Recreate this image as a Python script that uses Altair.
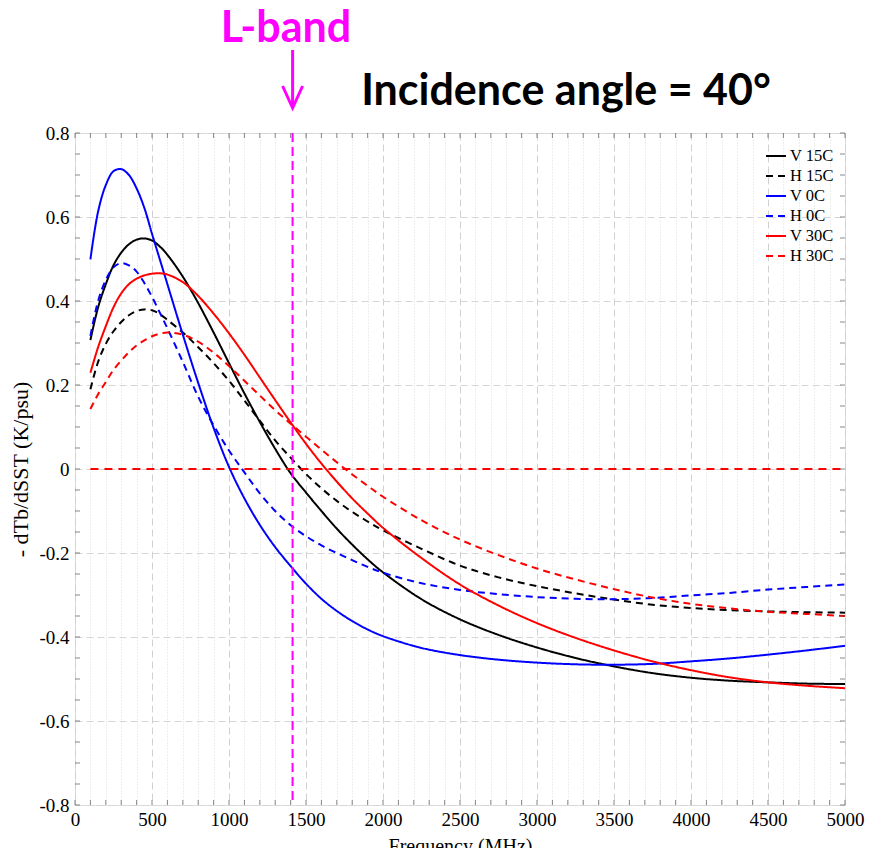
import altair as alt
import pandas as pd

freq = [100, 150, 200, 250, 300, 350, 400, 450, 500, 550, 600, 700, 800, 900, 1000,
        1100, 1200, 1300, 1400, 1500, 1600, 1700, 1800, 1900, 2000, 2250, 2500, 2750,
        3000, 3250, 3500, 3750, 4000, 4250, 4500, 4750, 5000]

v15 = [0.307, 0.385, 0.44, 0.485, 0.515, 0.535, 0.546, 0.549, 0.544, 0.530, 0.51, 0.458,
       0.395, 0.325, 0.252, 0.18, 0.112, 0.048, -0.01, -0.056, -0.10, -0.142, -0.18,
       -0.215, -0.246, -0.31, -0.358, -0.395, -0.425, -0.45, -0.47, -0.486, -0.497,
       -0.504, -0.508, -0.511, -0.512]
h15 = [0.19, 0.255, 0.298, 0.328, 0.35, 0.366, 0.376, 0.38, 0.378, 0.369, 0.355, 0.325,
       0.29, 0.252, 0.21, 0.163, 0.115, 0.068, 0.027, -0.012, -0.046, -0.076, -0.102,
       -0.125, -0.146, -0.19, -0.23, -0.258, -0.279, -0.296, -0.311, -0.323, -0.331,
       -0.336, -0.339, -0.341, -0.342]
v0 = [0.499, 0.613, 0.676, 0.709, 0.714, 0.70, 0.668, 0.622, 0.56, 0.50, 0.44, 0.32,
      0.205, 0.098, 0.005, -0.07, -0.133, -0.186, -0.231, -0.273, -0.309, -0.338, -0.362,
      -0.382, -0.398, -0.426, -0.443, -0.454, -0.461, -0.465, -0.466, -0.464, -0.458,
      -0.451, -0.442, -0.432, -0.421]
h0 = [0.317, 0.40, 0.45, 0.48, 0.49, 0.485, 0.47, 0.443, 0.41, 0.373, 0.335, 0.255,
      0.172, 0.104, 0.044, -0.008, -0.058, -0.1, -0.134, -0.16, -0.182, -0.2, -0.217,
      -0.233, -0.247, -0.272, -0.288, -0.298, -0.305, -0.309, -0.31, -0.307, -0.301,
      -0.295, -0.287, -0.281, -0.275]
v30 = [0.229, 0.29, 0.34, 0.385, 0.418, 0.44, 0.453, 0.461, 0.465, 0.466, 0.463, 0.445,
       0.412, 0.37, 0.323, 0.272, 0.218, 0.164, 0.111, 0.06, 0.013, -0.03, -0.07, -0.106,
       -0.14, -0.212, -0.275, -0.325, -0.367, -0.402, -0.432, -0.458, -0.479, -0.496,
       -0.508, -0.516, -0.522]
h30 = [0.143, 0.178, 0.207, 0.236, 0.258, 0.278, 0.294, 0.306, 0.316, 0.322, 0.325, 0.32,
       0.303, 0.277, 0.245, 0.21, 0.175, 0.14, 0.108, 0.077, 0.046, 0.016, -0.013, -0.04,
       -0.066, -0.122, -0.168, -0.205, -0.237, -0.263, -0.286, -0.306, -0.321, -0.332,
       -0.34, -0.345, -0.35]

series_names = ["V 15C", "H 15C", "V 0C", "H 0C", "V 30C", "H 30C"]
series_values = [v15, h15, v0, h0, v30, h30]
series_colors = ["#000000", "#000000", "#0000ff", "#0000ff", "#ff0000", "#ff0000"]
series_dash = [[1, 0], [7, 5], [1, 0], [7, 5], [1, 0], [7, 5]]

zero_freq = [100, 5000]
zero_val = [0, 0]
lband_freq = [1413]

x_ticks = list(range(0, 5001, 100))
y_ticks = [round(-0.8 + 0.05 * i, 2) for i in range(33)]

rows = []
for name, vals in zip(series_names, series_values):
    for f, v in zip(freq, vals):
        rows.append({"freq": f, "val": v, "series": name})
df = pd.DataFrame(rows)
zero_df = pd.DataFrame({"freq": zero_freq, "val": zero_val})
lband_df = pd.DataFrame({"freq": lband_freq})
xt_df = pd.DataFrame({"freq": x_ticks})
yt_df = pd.DataFrame({"val": y_ticks})

W, H = 770, 672
FONT = "Liberation Serif"
xscale = alt.Scale(domain=[0, 5000], nice=False, zero=False)
yscale = alt.Scale(domain=[-0.8, 0.8], nice=False, zero=False)

is_major_y = "abs(datum.value*5 - round(datum.value*5)) < 0.000001"

x_axis = alt.Axis(
    values=x_ticks,
    labelExpr="datum.value % 500 === 0 ? datum.label : ''",
    format="d",
    labelOverlap=False,
    labelFlush=False,
    grid=True,
    gridColor={"condition": {"test": "datum.value % 500 === 0", "value": "#d0d0d0"}, "value": "#dcdcdc"},
    gridDash={"condition": {"test": "datum.value % 500 === 0", "value": [7, 4]}, "value": [1, 2]},
    gridWidth=1,
    domain=False,
    ticks=False,
    labelFont=FONT,
    labelFontSize=19,
    labelColor="#000000",
    labelPadding=5,
    title="Frequency (MHz)",
    titleFont=FONT,
    titleFontSize=20,
    titleFontWeight="normal",
    titleColor="#000000",
    titlePadding=7,
)

y_axis = alt.Axis(
    values=y_ticks,
    labelExpr="(" + is_major_y + ") ? (datum.value == 0 ? '0' : replace(format(datum.value, '.1f'), '\u2212', '-')) : ''",
    labelOverlap=False,
    labelFlush=False,
    grid=True,
    gridColor="#d6d6d6",
    gridDash=[7, 4],
    gridOpacity={"condition": {"test": is_major_y, "value": 1}, "value": 0},
    domain=False,
    ticks=False,
    labelFont=FONT,
    labelFontSize=19,
    labelColor="#000000",
    labelPadding=6,
    title="- dTb/dSST (K/psu)",
    titleFont=FONT,
    titleFontSize=22,
    titleFontWeight="normal",
    titleColor="#000000",
    titlePadding=6,
)

legend = alt.Legend(
    title=None, orient="none", legendX=690, legendY=12,
    symbolType="stroke", symbolSize=400, symbolStrokeWidth=2,
    labelFont=FONT, labelFontSize=16.5, labelColor="#000000",
    rowPadding=0, labelOffset=3, padding=0,
)

X = alt.X("freq:Q", scale=xscale, axis=x_axis)
Y = alt.Y("val:Q", scale=yscale, axis=y_axis)

curves = alt.Chart(df).mark_line(strokeWidth=2, interpolate="catmull-rom").encode(
    x=X,
    y=Y,
    color=alt.Color("series:N", scale=alt.Scale(domain=series_names, range=series_colors), legend=legend),
    strokeDash=alt.StrokeDash("series:N", scale=alt.Scale(domain=series_names, range=series_dash), legend=legend),
    detail="series:N",
)

zero_line = alt.Chart(zero_df).mark_line(color="#ff0000", strokeWidth=2, strokeDash=[8, 6]).encode(x=X, y=Y)

TICK_COLOR = "#555555"
x_ticks_bottom = alt.Chart(xt_df).mark_tick(orient="vertical", size=5, thickness=1, color=TICK_COLOR).encode(
    x=X, y=alt.value(H - 2.5))
x_ticks_top = alt.Chart(xt_df).mark_tick(orient="vertical", size=5, thickness=1, color=TICK_COLOR).encode(
    x=X, y=alt.value(2.5))
y_ticks_left = alt.Chart(yt_df).mark_tick(orient="horizontal", size=5, thickness=1, color=TICK_COLOR).encode(
    y=Y, x=alt.value(2.5))
y_ticks_right = alt.Chart(yt_df).mark_tick(orient="horizontal", size=5, thickness=1, color=TICK_COLOR).encode(
    y=Y, x=alt.value(W - 2.5))

lband_rule = alt.Chart(lband_df).mark_rule(color="#ff00ff", strokeWidth=2, strokeDash=[9, 5]).encode(x=X)

arrow_shaft = alt.Chart(lband_df).mark_rule(color="#ff00ff", strokeWidth=3).encode(
    x=X,
    y=alt.value(-83),
    y2=alt.value(-27),
)

arrow_head = alt.Chart(lband_df).mark_point(
    shape="M-1,-2.2L0,0L1,-2.2", size=400, filled=False, color="#ff00ff", strokeWidth=3, opacity=1
).encode(
    x=X,
    y=alt.value(-25),
)

lband_text = alt.Chart(lband_df).mark_text(
    text="L-band", font="Lato", fontWeight="bold", fontSize=43, color="#ff00ff",
    align="center", baseline="alphabetic"
).encode(x=alt.value(211), y=alt.value(-91))

title_text = alt.Chart(lband_df).mark_text(
    text="Incidence angle = 40\u00b0", font="Lato", fontWeight="bold", fontSize=43, color="#000000",
    align="center", baseline="alphabetic"
).encode(x=alt.value(491), y=alt.value(-28))

chart = alt.layer(
    curves, zero_line, x_ticks_bottom, x_ticks_top, y_ticks_left, y_ticks_right,
    lband_rule, arrow_shaft, arrow_head, lband_text, title_text
).properties(
    width=W, height=H,
    padding={"left": 67, "top": 125, "right": 24, "bottom": 43},
    autosize=alt.AutoSizeParams(type="none"),
).configure_view(
    stroke="#808080", strokeWidth=1.3
).configure_axis(
    labelFont=FONT, titleFont=FONT
).configure_legend(
    labelFont=FONT
).configure(background="white")

chart.save("out.html", embed_options={"renderer": "svg", "actions": False})
